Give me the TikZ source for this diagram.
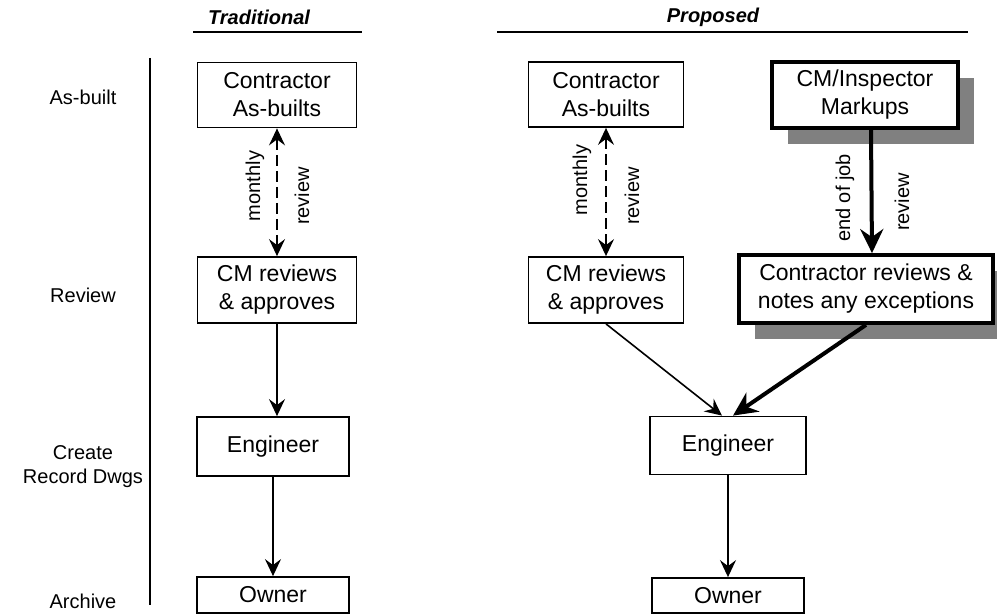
\documentclass[tikz,border=0pt]{standalone}
\usepackage{fontspec}
\setmainfont{Liberation Sans}
\usetikzlibrary{arrows.meta,shadows}

\begin{document}
\begin{tikzpicture}[x=1pt,y=-1pt,
	box/.style={draw,line width=1.8pt,fill=white,align=center,inner sep=0pt,font=\fontsize{23}{28}\selectfont},
	heavy/.style={box,line width=3.8pt,drop shadow={shadow xshift=16pt,shadow yshift=-16pt,fill=black!50,opacity=1}},
	lab/.style={font=\fontsize{20}{24}\selectfont,align=center},
	tag/.style={font=\fontsize{20}{24}\selectfont,rotate=90},
	head/.style={font=\fontsize{20}{24}\selectfont\bfseries\itshape},
	link/.style={line width=1.6pt,-{Stealth[length=17pt,width=16pt,inset=6pt]}},
	dlink/.style={line width=1.6pt,dash pattern=on 11pt off 5pt,{Stealth[length=17pt,width=16pt,inset=6pt]}-{Stealth[length=17pt,width=16pt,inset=6pt]}},
	hlink/.style={line width=4pt,-{Stealth[length=24pt,width=23pt,inset=8pt]}}]

	\useasboundingbox (0,0) rectangle (997,615);

	% stages
	\node[lab] (asbuilt) at (83,97) {As-built};
	\node[lab] (review) at (83,295) {Review};
	\node[lab] (create) at (83,467) {Create\\Record Dwgs};
	\node[lab] (archive) at (83,601) {Archive};
	\draw[line width=1.6pt] (150,58) -- (150,605);

	% traditional
	\node[head] (trad) at (259,17) {Traditional};
	\draw[line width=1.6pt] (193,32) -- (362,32);
	\node[box,minimum width=159,minimum height=65] (ca1) at (277,95) {Contractor\\As-builts};
	\node[box,minimum width=159,minimum height=66] (cm1) at (277,290) {CM reviews\\\& approves};
	\node[box,minimum width=152,minimum height=59] (en1) at (273,446.5) {Engineer};
	\node[box,minimum width=152,minimum height=36] (ow1) at (273,595) {Owner};
	\draw[dlink] (ca1.south) -- (cm1.north);
	\node[tag] (mon1) at (255,186) {monthly};
	\node[tag] (rev1) at (302,196) {review};
	\draw[link] (cm1.south) -- (cm1.south |- en1.north);
	\draw[link] (en1.south) -- (ow1.north);

	% proposed
	\node[head] (prop) at (713,17) {Proposed};
	\draw[line width=1.6pt] (497,32) -- (968,32);
	\node[box,minimum width=155,minimum height=65] (ca2) at (606,94.5) {Contractor\\As-builts};
	\node[box,minimum width=155,minimum height=66] (cm2) at (606,290) {CM reviews\\\& approves};
	\node[heavy,minimum width=186,minimum height=66] (mk) at (865,95) {CM/Inspector\\Markups};
	\node[heavy,minimum width=254,minimum height=68] (cr) at (866,289) {Contractor reviews \&\\notes any exceptions};
	\node[box,minimum width=156,minimum height=58] (en2) at (728,445.5) {Engineer};
	\node[box,minimum width=152,minimum height=35] (ow2) at (728,595.5) {Owner};
	\draw[dlink] (ca2.south) -- (cm2.north);
	\node[tag] (mon2) at (582,180) {monthly};
	\node[tag] (rev2) at (632,196) {review};
	\draw[hlink] ([xshift=6pt]mk.south) -- ([xshift=6pt]cr.north);
	\node[tag] (eoj) at (845,198) {end of job};
	\node[tag] (rev3) at (902,202) {review};
	\draw[link] (cm2.south) -- ([xshift=-6pt]en2.north);
	\draw[hlink] (cr.south) -- ([xshift=5pt]en2.north);
	\draw[link] (en2.south) -- (ow2.north);

\end{tikzpicture}
\end{document}
